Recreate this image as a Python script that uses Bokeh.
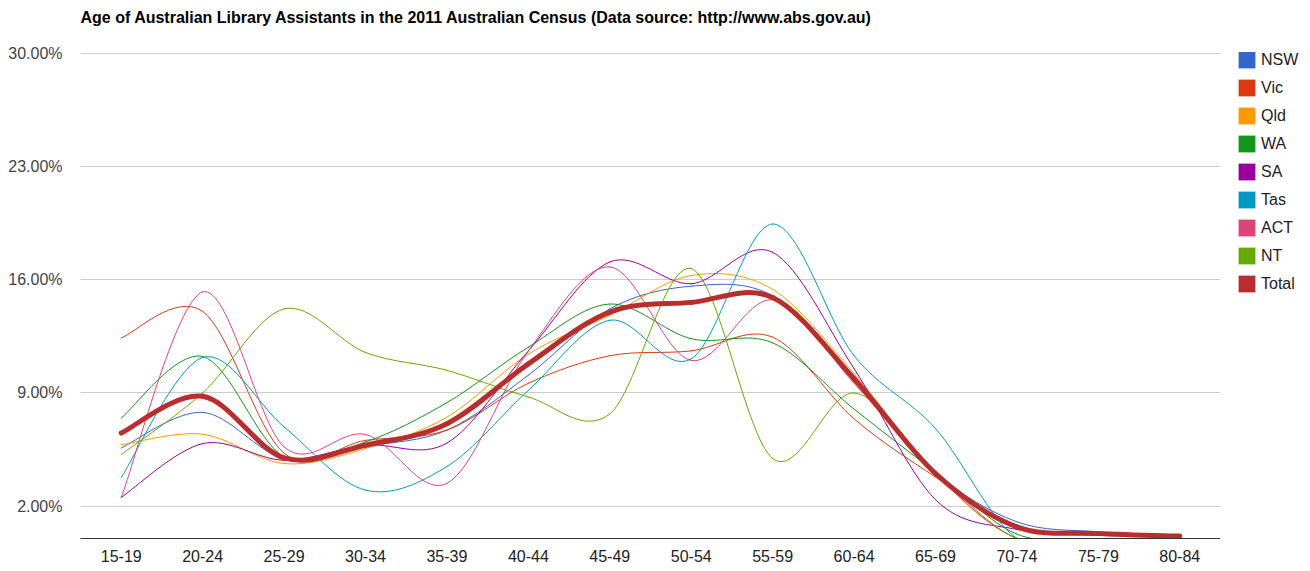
from bokeh.plotting import figure
from bokeh.layouts import row
from bokeh.models import ColumnDataSource, FixedTicker, Range1d, Legend, LegendItem
from bokeh.embed import file_html
from bokeh.resources import INLINE

# ---- data (percent of library assistants in each age group) ----
age_groups = ["15-19", "20-24", "25-29", "30-34", "35-39", "40-44", "45-49",
              "50-54", "55-59", "60-64", "65-69", "70-74", "75-79", "80-84"]

nsw   = [5.6, 7.8, 4.95, 5.7, 6.7, 10.1, 14.2, 15.6, 15.0, 9.9, 4.1, 1.03, 0.41, 0.15]
vic   = [12.4, 14.05, 5.27, 6.07, 6.7, 9.6, 11.3, 11.6, 12.45, 7.4, 3.8, 0.7, 0.25, 0.1]
qld   = [5.8, 6.45, 4.63, 5.56, 7.5, 11.4, 13.8, 16.26, 15.4, 10.2, 4.0, 0.0, 0.0, 0.0]
wa    = [7.45, 11.26, 5.04, 5.97, 8.4, 11.83, 14.5, 12.35, 12.1, 8.0, 4.1, 0.27, 0.0, 0.0]
sa    = [2.54, 5.87, 4.84, 5.77, 5.9, 11.6, 17.1, 15.75, 17.7, 10.5, 2.4, 0.56, 0.2, 0.1]
tas   = [3.77, 11.2, 6.9, 2.99, 4.45, 9.16, 13.5, 11.1, 19.45, 11.3, 6.8, 0.0, 0.0, 0.0]
act   = [2.54, 15.25, 5.66, 6.44, 3.4, 11.6, 16.8, 11.0, 14.76, 9.6, 4.0, 0.0, 0.0, 0.0]
nt    = [5.19, 9.0, 14.2, 11.5, 10.4, 8.75, 7.7, 16.7, 4.94, 9.0, 4.1, 0.0, 0.0, 0.0]
total = [6.52, 8.79, 4.98, 5.77, 7.1, 10.8, 14.0, 14.6, 14.9, 9.88, 4.02, 0.72, 0.31, 0.15]

series_names = ["NSW", "Vic", "Qld", "WA", "SA", "Tas", "ACT", "NT", "Total"]
series_values = [nsw, vic, qld, wa, sa, tas, act, nt, total]
series_colors = ["#3366cc", "#dc3912", "#ff9900", "#109618", "#990099",
                 "#0099c6", "#dd4477", "#66aa00", "#b82e2e"]
series_widths = [1, 1, 1, 1, 1, 1, 1, 1, 5]

y_ticks = [2, 9, 16, 23, 30]

TITLE = ("Age of Australian Library Assistants in the 2011 Australian Census "
         "(Data source: http://www.abs.gov.au)")
FONT = "Liberation Sans"

p = figure(width=1220, height=570, output_backend="svg", toolbar_location=None,
           x_range=Range1d(-0.5, len(age_groups) - 0.5), y_range=Range1d(0, 30.05),
           min_border_left=80, min_border_right=0, min_border_top=52,
           min_border_bottom=32, title=TITLE + "\n")
p.outline_line_color = None
p.background_fill_color = "white"
p.border_fill_color = "white"

p.title.text_font = FONT
p.title.text_font_size = "16px"
p.title.text_font_style = "bold"
p.title.text_color = "#000000"
p.title.align = "left"
p.title.offset = 0
p.title.vertical_align = "top"
p.title.standoff = 15

# axes
p.xaxis.ticker = FixedTicker(ticks=list(range(len(age_groups))))
p.xaxis.major_label_overrides = {i: g for i, g in enumerate(age_groups)}
p.xaxis.major_tick_line_color = None
p.xaxis.major_tick_out = 0
p.xaxis.major_tick_in = 0
p.xaxis.minor_tick_line_color = None
p.xaxis.axis_line_color = "#333333"
p.xaxis.axis_line_width = 1
p.xaxis.major_label_text_font = FONT
p.xaxis.major_label_text_font_size = "16px"
p.xaxis.major_label_text_color = "#222222"
p.xaxis.major_label_standoff = 11

p.yaxis.ticker = FixedTicker(ticks=y_ticks)
p.yaxis.major_label_overrides = {t: "%.2f%%" % t for t in y_ticks}
p.yaxis.major_tick_line_color = None
p.yaxis.major_tick_out = 0
p.yaxis.major_tick_in = 0
p.yaxis.minor_tick_line_color = None
p.yaxis.axis_line_color = None
p.yaxis.major_label_text_font = FONT
p.yaxis.major_label_text_font_size = "16px"
p.yaxis.major_label_text_color = "#444444"
p.yaxis.major_label_standoff = 18

p.xgrid.grid_line_color = None
p.ygrid.ticker = FixedTicker(ticks=y_ticks)
p.ygrid.grid_line_color = "#cccccc"
p.ygrid.grid_line_width = 1


def bezier_source(vals):
    n = len(vals)
    xs = list(range(n))
    d = dict(x0=[], y0=[], x1=[], y1=[], cx0=[], cy0=[], cx1=[], cy1=[])
    for i in range(n - 1):
        xa, ya = (xs[i - 1], vals[i - 1]) if i > 0 else (xs[i], vals[i])
        xd, yd = (xs[i + 2], vals[i + 2]) if i + 2 < n else (xs[i + 1], vals[i + 1])
        d["x0"].append(xs[i]); d["y0"].append(vals[i])
        d["x1"].append(xs[i + 1]); d["y1"].append(vals[i + 1])
        d["cx0"].append(xs[i] + (xs[i + 1] - xa) / 6.0)
        d["cy0"].append(vals[i] + (vals[i + 1] - ya) / 6.0)
        d["cx1"].append(xs[i + 1] - (xd - xs[i]) / 6.0)
        d["cy1"].append(vals[i + 1] - (yd - vals[i]) / 6.0)
    return ColumnDataSource(d)


for name, vals, col, w in zip(series_names, series_values, series_colors, series_widths):
    p.bezier(x0="x0", y0="y0", x1="x1", y1="y1", cx0="cx0", cy0="cy0",
             cx1="cx1", cy1="cy1", source=bezier_source(vals),
             line_color=col, line_width=w, line_cap="round")

# ---- legend panel (separate small figure to the right of the chart) ----
lf = figure(width=90, height=570, output_backend="svg", toolbar_location=None,
            x_axis_type=None, y_axis_type=None,
            x_range=Range1d(0, 1), y_range=Range1d(0, 1),
            min_border_left=0, min_border_right=0, min_border_top=14,
            min_border_bottom=0)
lf.outline_line_color = None
lf.xgrid.grid_line_color = None
lf.ygrid.grid_line_color = None
lf.background_fill_color = "white"
lf.border_fill_color = "white"

nan = float("nan")
items = []
for name, col in zip(series_names, series_colors):
    swatch = lf.quad(left=[nan], right=[nan], top=[nan], bottom=[nan],
                     fill_color=col, line_color=None)
    items.append(LegendItem(label=name, renderers=[swatch]))

legend = Legend(items=items, location=(16, 244), orientation="vertical")
legend.margin = 0
legend.padding = 0
legend.spacing = 7
legend.glyph_width = 21
legend.glyph_height = 21
legend.label_height = 21
legend.label_width = 40
legend.label_standoff = 4
legend.label_text_font = FONT
legend.label_text_font_size = "16px"
legend.label_text_color = "#222222"
legend.label_text_baseline = "middle"
legend.border_line_color = None
legend.background_fill_alpha = 0
lf.add_layout(legend)

layout = row(p, lf)
open("out.html", "w").write(file_html(layout, INLINE))
